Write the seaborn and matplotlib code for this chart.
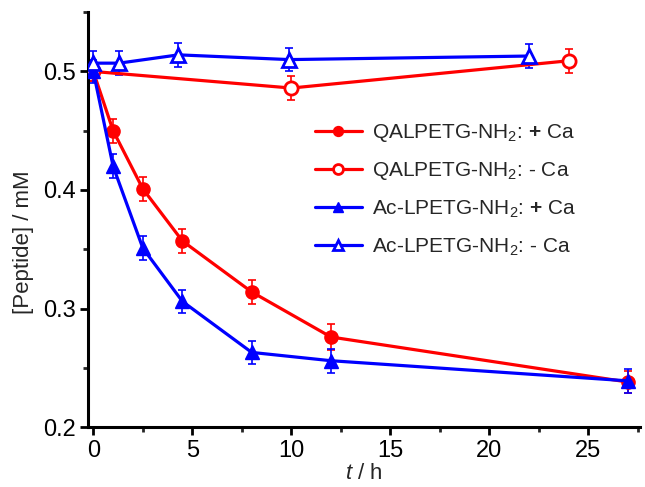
import numpy as np
import pandas as pd
import matplotlib
matplotlib.use("Agg")
import matplotlib.pyplot as plt
from matplotlib.ticker import MultipleLocator
import seaborn as sns

# Data
t_q_ca = [0, 1, 2.5, 4.5, 8, 12, 27]
y_q_ca = [0.500, 0.450, 0.401, 0.357, 0.314, 0.276, 0.238]
e_q_ca = [0.008, 0.010, 0.010, 0.010, 0.010, 0.011, 0.009]

t_q_noca = [0, 10, 24]
y_q_noca = [0.500, 0.486, 0.509]
e_q_noca = [0.008, 0.010, 0.010]

t_a_ca = [0, 1, 2.5, 4.5, 8, 12, 27]
y_a_ca = [0.500, 0.420, 0.351, 0.306, 0.263, 0.256, 0.239]
e_a_ca = [0.010, 0.010, 0.010, 0.010, 0.010, 0.010, 0.010]

t_a_noca = [0, 1.3, 4.3, 9.9, 22]
y_a_noca = [0.507, 0.507, 0.514, 0.510, 0.513]
e_a_noca = [0.010, 0.010, 0.010, 0.010, 0.010]

labels = [r"QALPETG-NH$_2$: $\mathbf{+}$ Ca",
          r"QALPETG-NH$_2$: $\mathbf{\text{-}}$ Ca",
          r"Ac-LPETG-NH$_2$: $\mathbf{+}$ Ca",
          r"Ac-LPETG-NH$_2$: $\mathbf{\text{-}}$ Ca"]

sns.set_style("ticks")
plt.rcParams['font.family'] = ['Liberation Sans', 'DejaVu Sans']
plt.rcParams['mathtext.fontset'] = 'custom'
plt.rcParams['mathtext.rm'] = 'Liberation Sans'
plt.rcParams['mathtext.it'] = 'Liberation Sans:italic'
plt.rcParams['mathtext.bf'] = 'Liberation Sans:bold'

fig = plt.figure(figsize=(6.45, 4.87), dpi=100)
ax = fig.add_axes([0.137, 0.123, 0.855, 0.852])

RED = "#ff0000"
BLUE = "#0000ff"
series = [
    (t_q_ca, y_q_ca, e_q_ca, RED, "o", True, labels[0]),
    (t_q_noca, y_q_noca, e_q_noca, RED, "o", False, labels[1]),
    (t_a_ca, y_a_ca, e_a_ca, BLUE, "^", True, labels[2]),
    (t_a_noca, y_a_noca, e_a_noca, BLUE, "^", False, labels[3]),
]

for t, y, e, c, m, filled, lab in series:
    df = pd.DataFrame({"t": t, "y": y})
    ax.errorbar(t, y, yerr=e, fmt="none", ecolor=c, elinewidth=1.2,
                capsize=3, capthick=1.2, zorder=2)
    sns.lineplot(data=df, x="t", y="y", ax=ax, color=c, linewidth=2.3,
                 marker=m, markersize=9.5 if m == "o" else 10,
                 markerfacecolor=c if filled else "white",
                 markeredgecolor=c, markeredgewidth=2.0 if not filled else 1.0,
                 label=lab, zorder=3)

ax.set_xlim(-0.25, 27.6)
ax.set_ylim(0.2, 0.55)
ax.xaxis.set_major_locator(MultipleLocator(5))
ax.xaxis.set_minor_locator(MultipleLocator(2.5))
ax.yaxis.set_minor_locator(MultipleLocator(0.05))
ax.set_yticks([0.2, 0.3, 0.4, 0.5])
ax.set_yticklabels(["0.2", "0.3", "0.4", "0.5"])
ax.tick_params(axis="both", which="major", direction="out", length=6, width=2,
               labelsize=17, colors="black", pad=3)
ax.tick_params(axis="both", which="minor", direction="out", length=3.5, width=2)
for s in ["left", "bottom"]:
    ax.spines[s].set_linewidth(2.2)
    ax.spines[s].set_color("black")
sns.despine(ax=ax)

ax.set_xlabel(r"$\mathit{t}$ / h", fontsize=16, labelpad=1)
ax.set_ylabel("[Peptide] / mM", fontsize=16)
ax.yaxis.set_label_coords(-0.098, 0.445)

leg = ax.legend(loc="upper left", bbox_to_anchor=(0.395, 0.755), frameon=False,
                fontsize=15, handlelength=2.3, handletextpad=0.45,
                labelspacing=0.78, borderaxespad=0, markerscale=0.75)

fig.savefig("out.png", dpi=100)
